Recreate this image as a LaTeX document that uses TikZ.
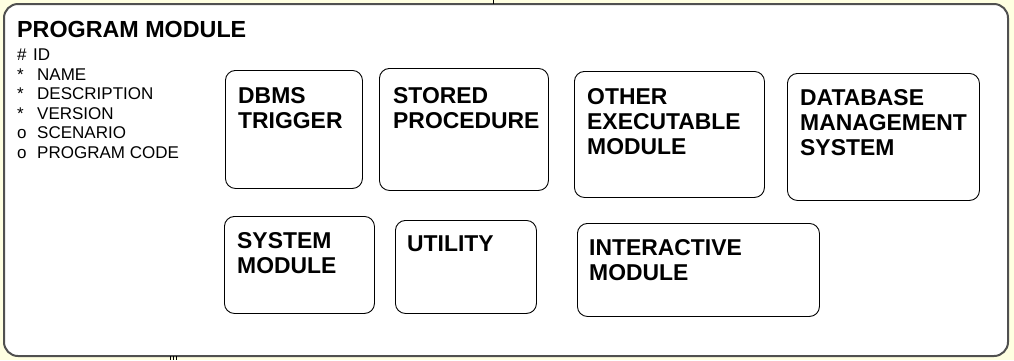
\documentclass[tikz,border=0pt]{standalone}
\usepackage{fontspec}
\setmainfont{Liberation Sans}
\usetikzlibrary{calc}
\definecolor{bgyellow}{RGB}{255,255,225}
\definecolor{outerline}{RGB}{80,80,80}
\begin{document}
\begin{tikzpicture}[x=1pt,y=-1pt,
  outerbox/.style={draw=outerline, line width=2pt, rounded corners=14pt, fill=white},
  subbox/.style={draw=black, line width=0.9pt, rounded corners=10pt, fill=white, anchor=north west, inner sep=0pt},
  boxlbl/.style={anchor=north west, inner sep=0pt, align=left, font=\fontsize{22.9}{25}\selectfont\bfseries},
  titlelbl/.style={anchor=north west, inner sep=0pt, font=\fontsize{23.3}{27}\selectfont\bfseries},
  attrlbl/.style={anchor=north west, inner sep=0pt, align=left, font=\fontsize{17}{19.5}\selectfont},
  tick/.style={draw=black, line width=0.8pt}
]
\useasboundingbox[fill=bgyellow] (0,0) rectangle (1014,360);
% outer module frame
\draw[outerbox] (4,4) rectangle (1008,356);
\draw[tick] (493,0) -- (493,4);
\draw[tick] (170,356) -- (170,360);
\draw[tick] (173,356) -- (173,360);
\draw[tick] (176,356) -- (176,360);

\node[titlelbl] (title) at (17,21) {PROGRAM MODULE};
\node[attrlbl] (attrs) at (17,49) {%
\makebox[16pt][l]{\#}ID\\
\makebox[20pt][l]{*}NAME\\
\makebox[20pt][l]{*}DESCRIPTION\\
\makebox[20pt][l]{*}VERSION\\
\makebox[20pt][l]{o}SCENARIO\\
\makebox[20pt][l]{o}PROGRAM CODE};

% sub-modules
\node[subbox, minimum width=137pt, minimum height=118pt] (dbms) at (225,70) {};
\node[boxlbl] (dbmsl) at ($(dbms.north west)+(13,17)$) {DBMS\\TRIGGER};

\node[subbox, minimum width=169pt, minimum height=122pt] (stored) at (379,68) {};
\node[boxlbl] (storedl) at ($(stored.north west)+(14,19)$) {STORED\\PROCEDURE};

\node[subbox, minimum width=190pt, minimum height=126pt] (other) at (574,71) {};
\node[boxlbl] (otherl) at ($(other.north west)+(13,17)$) {OTHER\\EXECUTABLE\\MODULE};

\node[subbox, minimum width=192pt, minimum height=127pt] (dbmsys) at (787,73) {};
\node[boxlbl] (dbmsysl) at ($(dbmsys.north west)+(13,16)$) {DATABASE\\MANAGEMENT\\SYSTEM};

\node[subbox, minimum width=150pt, minimum height=97pt] (sysmod) at (224,216) {};
\node[boxlbl] (sysmodl) at ($(sysmod.north west)+(13,16)$) {SYSTEM\\MODULE};

\node[subbox, minimum width=141pt, minimum height=93pt] (util) at (395,220) {};
\node[boxlbl] (utill) at ($(util.north west)+(12,16)$) {UTILITY};

\node[subbox, minimum width=242pt, minimum height=93pt] (inter) at (577,223) {};
\node[boxlbl] (interl) at ($(inter.north west)+(12,16)$) {INTERACTIVE\\MODULE};
\end{tikzpicture}
\end{document}
